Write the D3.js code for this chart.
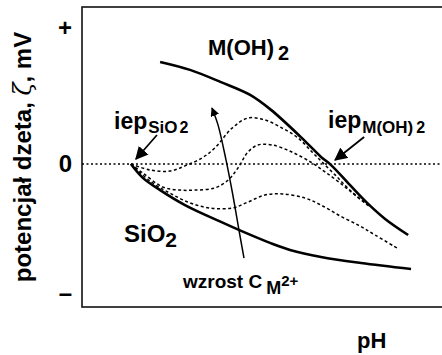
<!DOCTYPE html>
<html>
<head>
<meta charset="utf-8">
<script src="https://cdn.jsdelivr.net/npm/d3@7"></script>
<style>
  body { margin: 0; background: #fff; }
  svg { display: block; }
  text { font-family: "Liberation Sans", Arial, sans-serif; font-weight: bold; fill: #000; }
</style>
</head>
<body>
<svg width="442" height="355"></svg>
<script>
// curves: pH vs zeta potential (mV, arbitrary units)
var mohPH   = [4.17, 5.0, 5.86, 6.67, 7.25, 8.08, 8.64, 8.92, 9.44, 9.92, 10.42, 11.06];
var mohZeta = [37.5, 34.6, 30.1, 25.4, 19.9, 9.9, 2.6, -0.4, -7.7, -14.3, -20.2, -26.1];

var sioPH   = [3.36, 3.69, 4.17, 4.86, 5.86, 6.42, 7.22, 7.78, 8.64, 9.75, 11.14];
var sioZeta = [0, -5.1, -9.6, -15.1, -21.3, -24.6, -29.0, -31.6, -34.2, -36.4, -38.6];

// intermediate curves (rising M2+ concentration), highest first
var mixA_PH   = [3.36, 3.89, 4.44, 4.86, 5.33, 5.69, 6.17, 6.61, 7.08, 7.56, 8.0, 8.39, 8.67, 9.03, 9.44, 9.94];
var mixA_Zeta = [0, -2.2, -2.6, -0.7, 2.2, 5.9, 13.2, 16.9, 16.2, 13.2, 9.6, 4.4, 0.7, -4.0, -9.6, -15.1];
var mixB_PH   = [3.36, 3.69, 4.25, 4.72, 5.14, 5.69, 6.06, 6.33, 6.61, 6.89, 7.28, 7.83, 8.39, 8.75, 9.17, 9.58, 10.0];
var mixB_Zeta = [0, -3.3, -8.5, -9.6, -9.6, -8.8, -5.9, -1.5, 4.4, 7.0, 7.0, 4.4, 0.4, -2.9, -7.0, -11.4, -15.8];
var mixC_PH   = [3.36, 3.89, 4.44, 5.0, 5.56, 6.17, 6.61, 7.08, 7.56, 8.19, 8.64, 9.17, 9.72, 10.14, 10.75];
var mixC_Zeta = [0, -6.3, -10.7, -14.3, -16.2, -16.2, -14.0, -11.4, -11.0, -12.5, -15.1, -19.1, -22.8, -26.1, -30.9];

// "wzrost C" arrow path
var growPH   = [6.5, 6.36, 6.19, 6.0, 5.78, 5.61];
var growZeta = [-34.6, -24.3, -11.4, 1.5, 14.3, 20.6];

var tickVals = [50, 0, -47.5];
var tickText = ["+", "0", "\u2013"];

var svg = d3.select("svg");
var margin = {left: 82, top: 7, right: -10, bottom: 48};
var width = 442 - margin.left - margin.right,
    height = 355 - margin.top - margin.bottom;

var x = d3.scaleLinear().domain([2, 12]).range([margin.left, margin.left + 360]);
var y = d3.scaleLinear().domain([-50, 50]).range([300, 28]);

var defs = svg.append("defs");
defs.append("marker")
  .attr("id", "head")
  .attr("viewBox", "0 0 10 10")
  .attr("refX", 9).attr("refY", 5)
  .attr("markerWidth", 9).attr("markerHeight", 9)
  .attr("markerUnits", "userSpaceOnUse")
  .attr("orient", "auto")
  .append("path").attr("d", "M0,0 L10,5 L0,10 z").attr("fill", "#000");
defs.append("marker")
  .attr("id", "headBig")
  .attr("viewBox", "0 0 10 10")
  .attr("refX", 9).attr("refY", 5)
  .attr("markerWidth", 13).attr("markerHeight", 13)
  .attr("markerUnits", "userSpaceOnUse")
  .attr("orient", "auto")
  .append("path").attr("d", "M0,0 L10,5 L0,10 z").attr("fill", "#000");

// frame
svg.append("rect")
  .attr("x", margin.left).attr("y", margin.top)
  .attr("width", width).attr("height", height)
  .attr("fill", "none").attr("stroke", "#111").attr("stroke-width", 1.6);

// zero line
svg.append("line")
  .attr("x1", margin.left).attr("x2", 442)
  .attr("y1", y(0)).attr("y2", y(0))
  .attr("stroke", "#000").attr("stroke-width", 1.5)
  .attr("stroke-dasharray", "2,2.5");

// y axis labels (+ 0 -)
var yAxis = d3.axisLeft(y).tickValues(tickVals).tickSize(0).tickPadding(10)
  .tickFormat(function (d, i) { return tickText[i]; });
var ya = svg.append("g").attr("transform", "translate(" + margin.left + ",0)").call(yAxis);
ya.select(".domain").remove();
ya.selectAll("text").style("font-size", "24px").style("font-weight", "bold")
  .style("font-family", "Liberation Sans, Arial, sans-serif");

function zip(xs, ys) { return xs.map(function (v, i) { return [v, ys[i]]; }); }

var line = d3.line()
  .x(function (d) { return x(d[0]); })
  .y(function (d) { return y(d[1]); })
  .curve(d3.curveCatmullRom.alpha(0.5));

// dashed intermediate curves
[[mixA_PH, mixA_Zeta], [mixB_PH, mixB_Zeta], [mixC_PH, mixC_Zeta]].forEach(function (s) {
  svg.append("path")
    .datum(zip(s[0], s[1]))
    .attr("d", line)
    .attr("fill", "none").attr("stroke", "#000")
    .attr("stroke-width", 1.5)
    .attr("stroke-dasharray", "3,2.5");
});

// solid curves
[[mohPH, mohZeta], [sioPH, sioZeta]].forEach(function (s) {
  svg.append("path")
    .datum(zip(s[0], s[1]))
    .attr("d", line)
    .attr("fill", "none").attr("stroke", "#000")
    .attr("stroke-width", 2.6);
});

// arrow: wzrost C
svg.append("path")
  .datum(zip(growPH, growZeta))
  .attr("d", line)
  .attr("fill", "none").attr("stroke", "#000").attr("stroke-width", 1.5)
  .attr("marker-end", "url(#head)");

// iep arrows
var iepSi = [x(sioPH[0]), y(0)];
svg.append("line")
  .attr("x1", iepSi[0] + 26).attr("y1", iepSi[1] - 29)
  .attr("x2", iepSi[0] + 5).attr("y2", iepSi[1] - 5)
  .attr("stroke", "#000").attr("stroke-width", 1.8)
  .attr("marker-end", "url(#headBig)");
var iepM = [x(8.92), y(0)];
svg.append("line")
  .attr("x1", iepM[0] + 33).attr("y1", iepM[1] - 27)
  .attr("x2", iepM[0] + 4).attr("y2", iepM[1] - 4)
  .attr("stroke", "#000").attr("stroke-width", 1.8)
  .attr("marker-end", "url(#headBig)");

// text labels
var t;
t = svg.append("text").attr("x", 208).attr("y", 55).style("font-size", "22px").text("M(OH)");
t.append("tspan").attr("dx", 4).attr("dy", 5).style("font-size", "20px").text("2");

t = svg.append("text").attr("x", 124).attr("y", 242).style("font-size", "24px").text("SiO");
t.append("tspan").attr("dy", 5).style("font-size", "21px").text("2");

t = svg.append("text").attr("x", 114).attr("y", 129).style("font-size", "23px").text("iep");
t.append("tspan").attr("dx", 1).attr("dy", 4).style("font-size", "17px").text("SiO");
t.append("tspan").attr("dx", 2).style("font-size", "16px").text("2");

t = svg.append("text").attr("x", 328).attr("y", 128).style("font-size", "23px").text("iep");
t.append("tspan").attr("dx", 1).attr("dy", 5).style("font-size", "17px").text("M(OH)");
t.append("tspan").attr("dx", 3).style("font-size", "16px").text("2");

t = svg.append("text").attr("x", 183).attr("y", 288).style("font-size", "19px").text("wzrost C");
t.append("tspan").attr("dx", 4).attr("dy", 6).style("font-size", "18px").text("M");
t.append("tspan").attr("dy", -8).style("font-size", "15px").text("2+");

svg.append("text").attr("x", 357).attr("y", 348).style("font-size", "22px").text("pH");

// y axis title
var yt = svg.append("text")
  .attr("transform", "translate(31,157) rotate(-90)")
  .attr("text-anchor", "middle")
  .style("font-size", "24px")
  .text("potencjał dzeta, ");
yt.append("tspan").style("font-family", "DejaVu Serif, serif").style("font-style", "italic")
  .style("font-weight", "normal").text("ζ");
yt.append("tspan").text(", mV");
</script>
</body>
</html>
